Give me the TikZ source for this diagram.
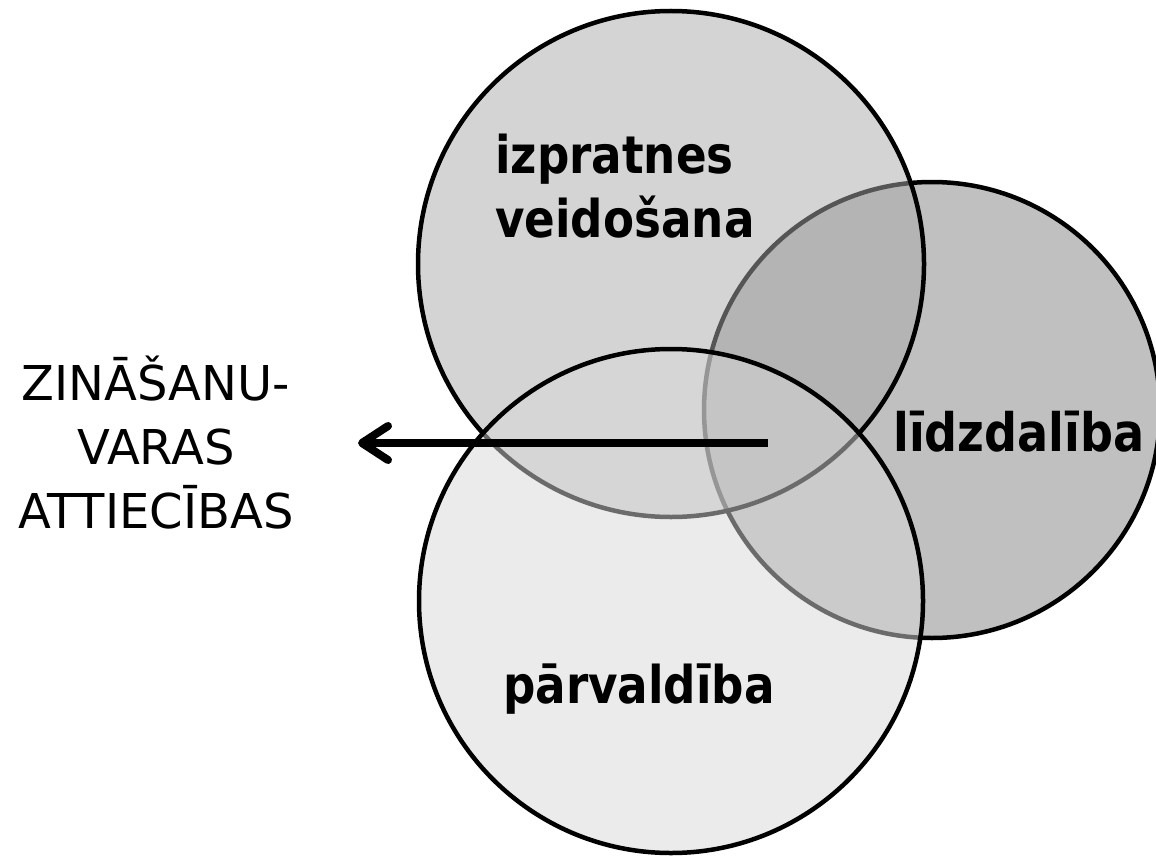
\documentclass[tikz,border=0pt]{standalone}
\usepackage{fontspec}
\setmainfont{DejaVu Sans}
\newfontfamily\boldlabelfont[FakeStretch=0.87]{DejaVu Sans}
\usetikzlibrary{arrows.meta}
\definecolor{rightfill}{HTML}{C0C0C0}
\definecolor{topfill}{HTML}{AAAAAA}
\definecolor{botfill}{HTML}{D7D7D7}
\tikzset{
  venn/.style={draw=black, line width=4.5pt},
  biglabel/.style={font=\boldlabelfont\bfseries\fontsize{52}{64}\selectfont, inner sep=0pt, anchor=base west, align=left},
  sidelabel/.style={font=\fontsize{48}{64}\selectfont, inner sep=0pt, align=center},
  bigarrow/.style={line width=8pt, -{Straight Barb[length=26pt,width=34pt,round]}}
}
\begin{document}
\begin{tikzpicture}[x=1pt,y=-1pt]
\useasboundingbox (0,0) rectangle (1156,856);
% circles
\draw[venn, fill=rightfill] (932,410) circle[radius=228pt];
\draw[venn, fill=topfill, fill opacity=0.5] (671,264) circle[radius=253pt];
\draw[venn, fill=botfill, fill opacity=0.5] (671,601) circle[radius=252pt];
% labels
\node[biglabel] (izpr) at (495,237) {izpratnes\\veidošana};
\node[biglabel, font=\boldlabelfont\bfseries\fontsize{53}{64}\selectfont] (lidz) at (893,451) {līdzdalība};
\node[biglabel] (parv) at (503,703) {pārvaldība};
\node[sidelabel, anchor=base] (zin) at (156,528) {ZINĀŠANU-\\VARAS\\ATTIECĪBAS};
% arrow
\coordinate (arrowstart) at (768,443);
\coordinate (arrowtip) at (358,443);
\draw[bigarrow] (arrowstart) -- (arrowtip);
\end{tikzpicture}
\end{document}
